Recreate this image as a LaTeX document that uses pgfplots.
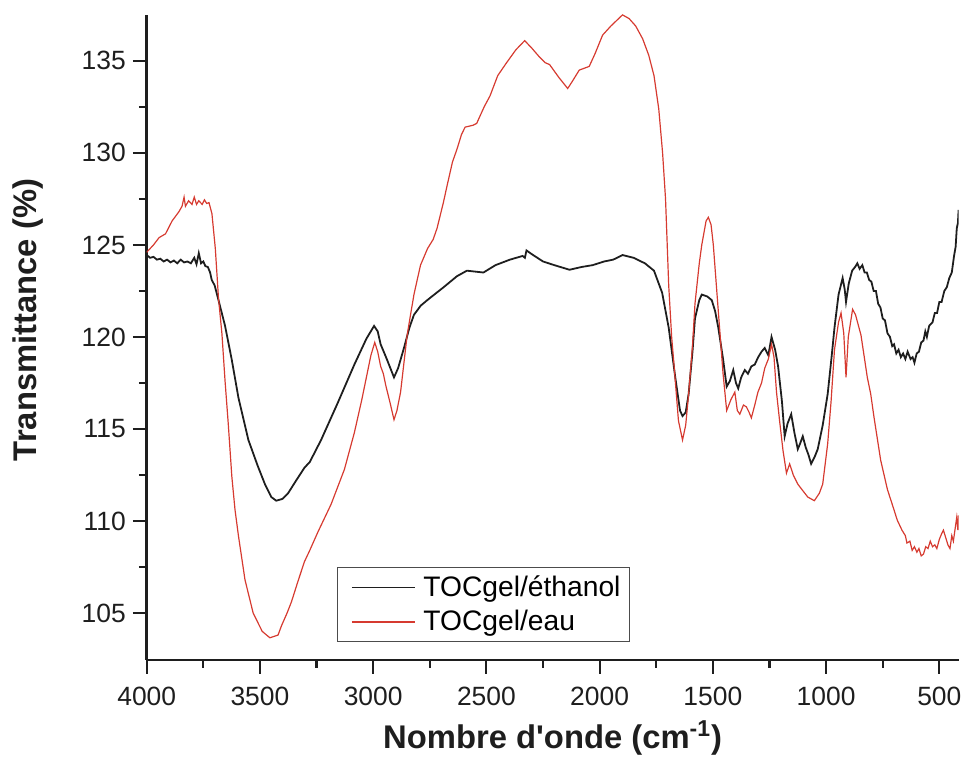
\documentclass[border=0pt]{standalone}
\usepackage{fontspec}
\setmainfont{Liberation Sans}
\usepackage{pgfplots}
\pgfplotsset{compat=1.18}
\definecolor{ethcol}{RGB}{30,30,30}
\definecolor{eaucol}{RGB}{214,58,48}
\begin{document}
\begin{tikzpicture}
\path (-73.85pt,-52.85pt) rectangle (410.15pt,332.15pt);
\begin{axis}[
    at={(0,0)}, anchor=south west,
    scale only axis,
    width=408.65pt, height=324.65pt,
    x dir=reverse,
    xmin=415, xmax=4000,
    ymin=102.45, ymax=137.5,
    axis x line*=bottom, axis y line*=left,
    axis line style={line width=1.3pt, ethcol},
    xtick={500,1000,...,4000},
    ytick={105,110,...,135},
    minor x tick num=1, minor y tick num=1,
    tick align=outside,
    major tick length=7pt, minor tick length=4pt,
    tick style={line width=1.1pt, ethcol},
    /pgf/number format/assume math mode=true,
    /pgf/number format/set thousands separator={},
    ticklabel style={font=\fontsize{13.3}{16}\selectfont, text=ethcol},
    xticklabel style={yshift=-3pt},
    xlabel={Nombre d\textquotesingle onde (cm\textsuperscript{-1})},
    ylabel={Transmittance (\%)},
    label style={font=\bfseries\fontsize{16.5}{19}\selectfont, text=ethcol},
    xlabel style={at={(axis description cs:0.5,-0.138)}, anchor=base},
    ylabel style={at={(axis description cs:-0.146,0.527)}, anchor=center, rotate=0},
    legend style={at={(0.234,0.1437)}, anchor=north west,
        draw=black!70, line width=0.5pt, fill=white,
        font=\fontsize{14.2}{17}\selectfont, inner sep=2pt,
        row sep=1.5pt, nodes={inner xsep=2.5pt}},
    legend cell align=left,
    legend image code/.code={\path (0pt,0pt); \draw[#1] (5pt,0pt) -- (36.5pt,0pt); \path (38pt,0pt);},
]
% TOCgel/ethanol
\addplot[ethcol, line width=0.9pt] coordinates {
(4000,124.45) (3985,124.3) (3970,124.35) (3955,124.2) (3940,124.25)
(3925,124.1) (3910,124.2) (3895,124.05) (3880,124.15) (3865,124.0)
(3850,124.2) (3835,124.05) (3820,124.1) (3805,124.0) (3790,124.3)
(3780,123.95) (3770,124.55) (3760,124.0) (3750,124.1) (3741,123.85)
(3730,123.8) (3720,123.5) (3713,123.1) (3700,122.8) (3683,122.0)
(3654,120.6) (3625,118.8) (3595,116.7) (3551,114.4) (3510,113.0)
(3478,112.0) (3450,111.3) (3428,111.1) (3400,111.2) (3376,111.5)
(3340,112.2) (3303,112.9) (3280,113.2) (3230,114.4) (3157,116.4)
(3083,118.5) (3030,119.9) (2996,120.6) (2980,120.3) (2967,119.6)
(2940,118.8) (2908,117.8) (2890,118.3) (2864,119.4) (2840,120.5)
(2820,121.2) (2790,121.7) (2761,122.0) (2720,122.4) (2689,122.7)
(2630,123.3) (2586,123.6) (2550,123.55) (2513,123.5) (2460,123.9)
(2396,124.2) (2340,124.4) (2330,124.3) (2323,124.7) (2300,124.5)
(2250,124.1) (2200,123.9) (2133,123.65) (2080,123.8) (2031,123.9)
(1980,124.1) (1940,124.2) (1899,124.45) (1850,124.3) (1800,124.0)
(1760,123.6) (1724,122.4) (1695,120.5) (1666,117.8) (1645,116.0)
(1634,115.7) (1620,115.9) (1607,116.9) (1590,119.2) (1579,121.0)
(1560,122.0) (1549,122.3) (1525,122.2) (1505,122.0) (1490,121.4)
(1476,120.5) (1455,118.8) (1439,117.3) (1425,117.6) (1410,118.2)
(1398,117.5) (1388,117.2) (1375,117.8) (1359,118.2) (1345,118.0)
(1330,118.4) (1315,118.5) (1300,118.9) (1285,119.2) (1271,119.4)
(1255,119.0) (1241,120.0) (1225,119.3) (1212,118.4) (1195,116.5)
(1183,114.6) (1170,115.3) (1154,115.8) (1140,114.8) (1125,113.9)
(1115,114.2) (1103,114.6) (1090,114.0) (1078,113.6) (1066,113.1)
(1050,113.5) (1037,113.9) (1015,115.2) (993,116.9) (975,119.0)
(963,120.5) (945,122.3) (927,123.2) (918,122.6) (912,121.9)
(900,122.9) (885,123.6) (872,123.8) (862,124.0) (852,123.7)
(840,123.9) (830,123.5) (820,123.5) (810,123.1) (800,123.0)
(790,122.5) (780,122.5) (770,121.8) (760,121.6) (750,121.0)
(740,120.9) (729,120.2) (718,120.0) (708,119.5) (700,119.6)
(690,119.1) (680,119.3) (670,118.9) (660,119.1) (650,118.8)
(640,119.2) (627,118.8) (618,118.9) (610,118.6) (600,119.1)
(590,119.2) (580,119.7) (570,119.8) (562,120.3) (555,120.0)
(545,120.6) (530,120.8) (520,121.3) (510,121.3) (500,121.9)
(490,121.9) (478,122.5) (467,122.7) (456,123.2) (445,123.5)
(435,124.4) (428,124.9) (423,125.9) (418,126.2) (415,126.9)
};
\addlegendentry{TOCgel/éthanol}
% TOCgel/eau
\addplot[eaucol, line width=0.6pt] coordinates {
(4000,124.6) (3970,125.0) (3945,125.4) (3917,125.6) (3888,126.3)
(3858,126.8) (3844,127.1) (3835,127.6) (3829,127.1) (3815,127.4)
(3800,127.2) (3790,127.6) (3780,127.2) (3770,127.4) (3755,127.2)
(3745,127.45) (3735,127.25) (3725,127.3) (3712,126.7) (3697,124.8)
(3683,122.1) (3668,120.2) (3654,117.6) (3640,115.3) (3624,112.4)
(3610,110.6) (3595,109.2) (3566,106.8) (3530,105.0) (3490,104.0)
(3456,103.65) (3420,103.8) (3405,104.3) (3380,105.0) (3361,105.6)
(3330,106.8) (3303,107.8) (3280,108.4) (3244,109.4) (3186,110.9)
(3127,112.8) (3083,114.8) (3050,116.6) (3010,119.0) (2993,119.7)
(2980,119.2) (2967,118.4) (2955,118.0) (2945,117.4) (2925,116.4)
(2908,115.5) (2895,116.0) (2879,117.0) (2850,120.1) (2820,122.3)
(2791,123.9) (2760,124.8) (2735,125.3) (2718,125.9) (2690,127.3)
(2674,128.2) (2650,129.5) (2630,130.2) (2610,131.0) (2594,131.4)
(2560,131.5) (2543,131.6) (2510,132.5) (2484,133.1) (2450,134.2)
(2411,134.9) (2370,135.6) (2331,136.1) (2300,135.7) (2265,135.2)
(2240,134.9) (2221,134.8) (2180,134.1) (2141,133.5) (2120,133.9)
(2090,134.5) (2046,134.7) (2020,135.4) (1987,136.4) (1950,136.9)
(1899,137.5) (1870,137.3) (1841,136.9) (1810,136.2) (1783,135.3)
(1760,134.2) (1739,132.4) (1722,130.0) (1709,127.5) (1695,122.8)
(1682,120.0) (1673,118.7) (1652,115.45) (1634,114.4) (1620,115.2)
(1607,116.9) (1590,119.5) (1579,121.8) (1560,124.0) (1549,125.0)
(1530,126.3) (1520,126.5) (1508,126.1) (1498,125.0) (1476,121.4)
(1455,118.0) (1439,116.0) (1420,116.6) (1403,117.0) (1392,116.0)
(1381,115.8) (1365,116.3) (1352,116.2) (1340,115.9) (1330,115.6)
(1315,116.3) (1301,117.0) (1285,117.5) (1271,118.3) (1255,118.8)
(1241,119.6) (1230,118.9) (1219,117.0) (1205,115.4) (1190,113.8)
(1175,112.6) (1161,113.1) (1145,112.5) (1125,112.0) (1100,111.6)
(1081,111.3) (1052,111.1) (1030,111.5) (1015,112.0) (993,114.2)
(978,116.5) (963,119.3) (945,120.8) (934,121.3) (922,120.2)
(912,117.8) (902,120.0) (883,121.5) (870,121.2) (846,120.1)
(818,117.8) (803,116.9) (788,115.6) (759,113.3) (729,111.7)
(700,110.6) (686,110.05) (665,109.5) (650,109.2) (643,108.8)
(630,108.9) (620,108.4) (610,108.6) (599,108.3) (590,108.5)
(580,108.1) (570,108.2) (560,108.6) (550,108.5) (540,108.9)
(530,108.6) (520,108.7) (511,108.5) (500,109.0) (490,109.3)
(482,109.5) (472,109.1) (462,108.7) (453,108.5) (445,109.2)
(438,108.9) (430,109.6) (423,110.2) (418,109.5) (415,110.3)
};
\addlegendentry{TOCgel/eau}
\end{axis}
\end{tikzpicture}
\end{document}
